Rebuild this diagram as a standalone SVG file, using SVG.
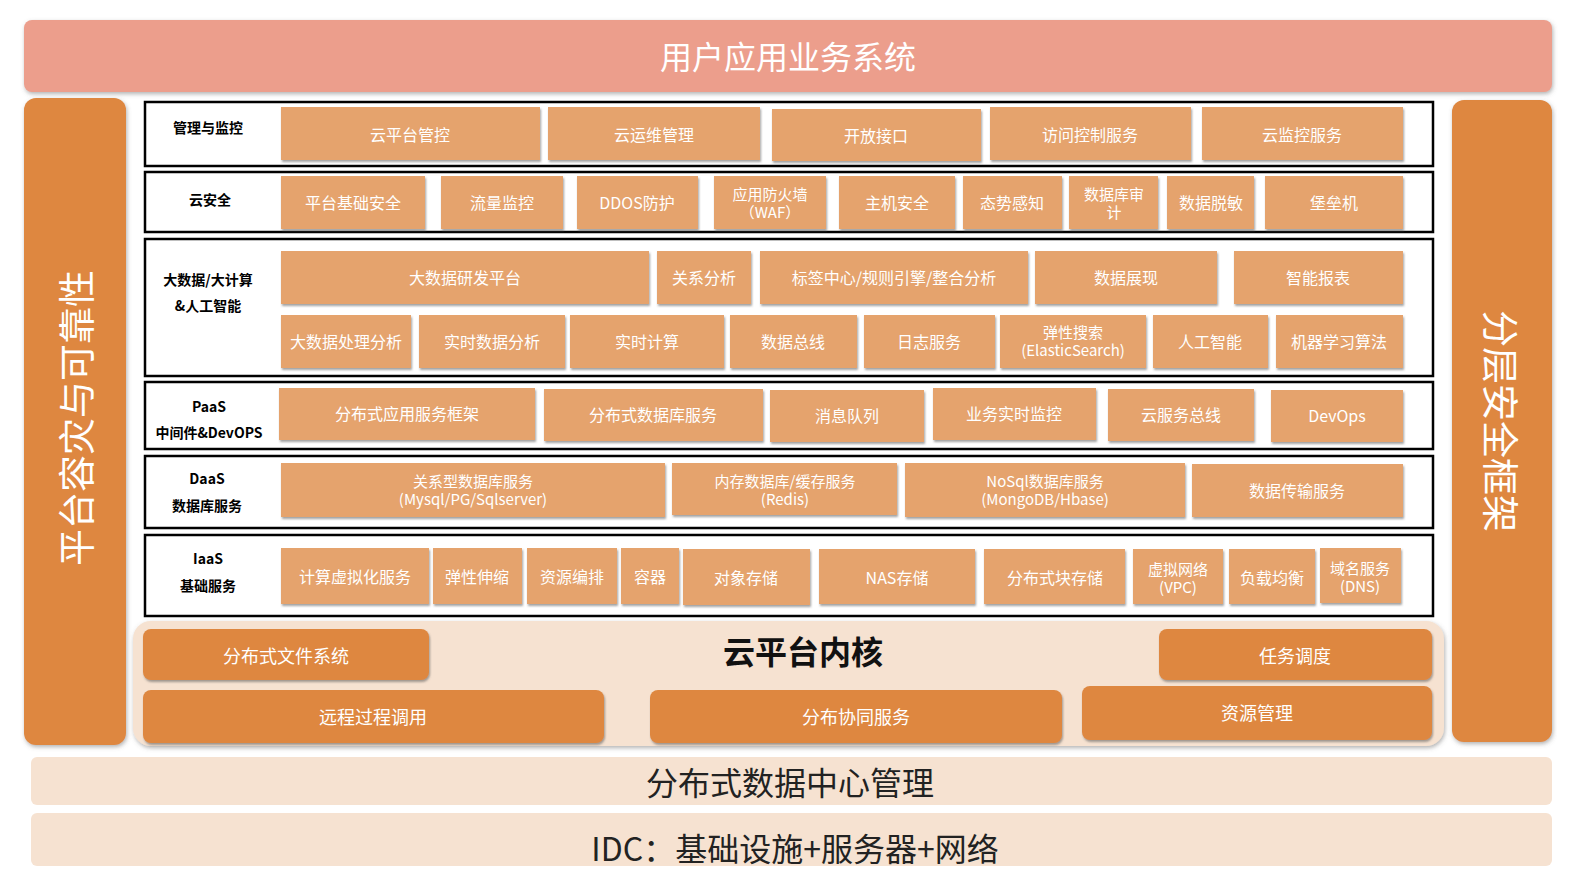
<svg xmlns="http://www.w3.org/2000/svg" width="1583" height="891" viewBox="0 0 1583 891">
<defs>
<filter id="sh" x="-10%" y="-20%" width="120%" height="150%">
<feDropShadow dx="1" dy="2" stdDeviation="1.2" flood-color="#555" flood-opacity="0.55"/>
</filter>
<filter id="sh2" x="-5%" y="-10%" width="110%" height="130%">
<feDropShadow dx="1" dy="2" stdDeviation="2" flood-color="#666" flood-opacity="0.5"/>
</filter>
</defs>
<style>
text{font-family:"Noto Sans CJK SC","Microsoft YaHei","Noto Sans",sans-serif;text-anchor:middle;dominant-baseline:central}
.it{fill:#E5A36D;filter:url(#sh)}
.t{fill:#fff;font-size:16px}
.t2{fill:#fff;font-size:15px}
.row{fill:#fff;stroke:#000;stroke-width:2.5}
.lb{fill:#000;font-size:14px;font-weight:bold}
.kn{fill:#DE873F;filter:url(#sh)}
.kt{fill:#fff;font-size:18px}
.bar{fill:#DE873F;filter:url(#sh2)}
.base{fill:#F6E2D1}
.big{fill:#222;font-size:32px}
</style>
<rect width="1583" height="891" fill="#fff"/>

<g id="top">
<rect x="24" y="20" width="1528" height="72" rx="8" fill="#EC9E8C" filter="url(#sh2)"/>
<text x="788" y="55" fill="#fff" style="font-size:32px">用户应用业务系统</text>
</g>

<g id="left-bar">
<rect class="bar" x="24" y="98" width="102" height="647" rx="12"/>
<text x="75" y="418" transform="rotate(-90 75 418)" fill="#fff" style="font-size:37px">平台容灾与可靠性</text>
</g>
<g id="right-bar">
<rect class="bar" x="1452" y="100" width="100" height="642" rx="12"/>
<text x="1502" y="421" transform="rotate(90 1502 421)" fill="#fff" style="font-size:37px">分层安全框架</text>
</g>

<g id="row-mgmt">
<rect class="row" x="145" y="102" width="1288" height="64"/>
<text class="lb" x="208" y="127">管理与监控</text>
<rect class="it" x="281" y="107" width="259" height="53"/><text class="t" x="410" y="134">云平台管控</text>
<rect class="it" x="548" y="107" width="212" height="53"/><text class="t" x="654" y="134">云运维管理</text>
<rect class="it" x="772" y="109" width="209" height="52"/><text class="t" x="876" y="135">开放接口</text>
<rect class="it" x="990" y="107" width="201" height="53"/><text class="t" x="1090" y="134">访问控制服务</text>
<rect class="it" x="1202" y="107" width="201" height="53"/><text class="t" x="1302" y="134">云监控服务</text>
</g>

<g id="row-sec">
<rect class="row" x="145" y="172" width="1288" height="60"/>
<text class="lb" x="210" y="199">云安全</text>
<rect class="it" x="281" y="176" width="144" height="53"/><text class="t" x="353" y="202">平台基础安全</text>
<rect class="it" x="441" y="176" width="122" height="53"/><text class="t" x="502" y="202">流量监控</text>
<rect class="it" x="577" y="176" width="121" height="53"/><text class="t" x="637" y="202">DDOS防护</text>
<rect class="it" x="714" y="176" width="112" height="53"/><text class="t2" x="770" y="193">应用防火墙</text><text class="t2" x="770" y="211">（WAF）</text>
<rect class="it" x="839" y="176" width="116" height="53"/><text class="t" x="897" y="202">主机安全</text>
<rect class="it" x="963" y="176" width="99" height="53"/><text class="t" x="1012" y="202">态势感知</text>
<rect class="it" x="1069" y="176" width="89" height="53"/><text class="t2" x="1114" y="193">数据库审</text><text class="t2" x="1114" y="211">计</text>
<rect class="it" x="1167" y="176" width="87" height="53"/><text class="t" x="1211" y="202">数据脱敏</text>
<rect class="it" x="1265" y="176" width="138" height="53"/><text class="t" x="1334" y="202">堡垒机</text>
</g>

<g id="row-bigdata">
<rect class="row" x="145" y="239" width="1288" height="137"/>
<text class="lb" x="208" y="279">大数据/大计算</text>
<text class="lb" x="208" y="305">&amp;人工智能</text>
<rect class="it" x="281" y="251" width="368" height="53"/><text class="t" x="465" y="277">大数据研发平台</text>
<rect class="it" x="657" y="251" width="94" height="53"/><text class="t" x="704" y="277">关系分析</text>
<rect class="it" x="760" y="251" width="268" height="53"/><text class="t" x="894" y="277">标签中心/规则引擎/整合分析</text>
<rect class="it" x="1035" y="251" width="182" height="53"/><text class="t" x="1126" y="277">数据展现</text>
<rect class="it" x="1234" y="251" width="169" height="53"/><text class="t" x="1318" y="277">智能报表</text>
<rect class="it" x="281" y="315" width="130" height="53"/><text class="t" x="346" y="341">大数据处理分析</text>
<rect class="it" x="419" y="315" width="146" height="53"/><text class="t" x="492" y="341">实时数据分析</text>
<rect class="it" x="570" y="315" width="154" height="53"/><text class="t" x="647" y="341">实时计算</text>
<rect class="it" x="730" y="315" width="127" height="53"/><text class="t" x="793" y="341">数据总线</text>
<rect class="it" x="864" y="315" width="131" height="53"/><text class="t" x="929" y="341">日志服务</text>
<rect class="it" x="1000" y="315" width="146" height="53"/><text class="t2" x="1073" y="331">弹性搜索</text><text class="t2" x="1073" y="349">(ElasticSearch)</text>
<rect class="it" x="1153" y="315" width="115" height="53"/><text class="t" x="1210" y="341">人工智能</text>
<rect class="it" x="1276" y="315" width="127" height="53"/><text class="t" x="1339" y="341">机器学习算法</text>
</g>

<g id="row-paas">
<rect class="row" x="145" y="382" width="1288" height="67"/>
<text class="lb" x="209" y="406">PaaS</text>
<text class="lb" x="209" y="432">中间件&amp;DevOPS</text>
<rect class="it" x="279" y="388" width="256" height="52"/><text class="t" x="407" y="413">分布式应用服务框架</text>
<rect class="it" x="544" y="389" width="219" height="52"/><text class="t" x="653" y="414">分布式数据库服务</text>
<rect class="it" x="770" y="390" width="154" height="52"/><text class="t" x="847" y="415">消息队列</text>
<rect class="it" x="933" y="388" width="163" height="52"/><text class="t" x="1014" y="413">业务实时监控</text>
<rect class="it" x="1108" y="389" width="146" height="52"/><text class="t" x="1181" y="414">云服务总线</text>
<rect class="it" x="1271" y="390" width="132" height="52"/><text class="t" x="1337" y="415">DevOps</text>
</g>

<g id="row-daas">
<rect class="row" x="145" y="456" width="1288" height="72"/>
<text class="lb" x="207" y="478">DaaS</text>
<text class="lb" x="207" y="505">数据库服务</text>
<rect class="it" x="281" y="463" width="384" height="54"/><text class="t2" x="473" y="480">关系型数据库服务</text><text class="t2" x="473" y="498">(Mysql/PG/Sqlserver)</text>
<rect class="it" x="672" y="463" width="225" height="52"/><text class="t2" x="785" y="480">内存数据库/缓存服务</text><text class="t2" x="785" y="498">(Redis)</text>
<rect class="it" x="905" y="463" width="280" height="54"/><text class="t2" x="1045" y="480">NoSql数据库服务</text><text class="t2" x="1045" y="498">(MongoDB/Hbase)</text>
<rect class="it" x="1192" y="464" width="211" height="53"/><text class="t" x="1297" y="490">数据传输服务</text>
</g>

<g id="row-iaas">
<rect class="row" x="145" y="535" width="1288" height="81"/>
<text class="lb" x="208" y="558">IaaS</text>
<text class="lb" x="208" y="585">基础服务</text>
<rect class="it" x="281" y="548" width="148" height="56"/><text class="t" x="355" y="576">计算虚拟化服务</text>
<rect class="it" x="433" y="548" width="89" height="56"/><text class="t" x="477" y="576">弹性伸缩</text>
<rect class="it" x="527" y="548" width="90" height="56"/><text class="t" x="572" y="576">资源编排</text>
<rect class="it" x="621" y="548" width="58" height="56"/><text class="t" x="650" y="576">容器</text>
<rect class="it" x="683" y="549" width="127" height="56"/><text class="t" x="746" y="577">对象存储</text>
<rect class="it" x="819" y="549" width="156" height="55"/><text class="t" x="897" y="577">NAS存储</text>
<rect class="it" x="984" y="549" width="141" height="55"/><text class="t" x="1055" y="577">分布式块存储</text>
<rect class="it" x="1133" y="549" width="90" height="55"/><text class="t2" x="1178" y="568">虚拟网络</text><text class="t2" x="1178" y="586">(VPC)</text>
<rect class="it" x="1229" y="549" width="86" height="55"/><text class="t" x="1272" y="577">负载均衡</text>
<rect class="it" x="1320" y="548" width="81" height="55"/><text class="t2" x="1360" y="567">域名服务</text><text class="t2" x="1360" y="585">(DNS)</text>
</g>

<g id="kernel">
<rect x="133" y="621" width="1311" height="125" rx="18" fill="#F6E2D1" filter="url(#sh2)"/>
<text x="803" y="650" fill="#111" style="font-size:32px;font-weight:bold">云平台内核</text>
<rect class="kn" x="143" y="629" width="286" height="51" rx="8"/><text class="kt" x="286" y="655">分布式文件系统</text>
<rect class="kn" x="1159" y="629" width="273" height="51" rx="8"/><text class="kt" x="1295" y="655">任务调度</text>
<rect class="kn" x="143" y="690" width="461" height="53" rx="8"/><text class="kt" x="373" y="716">远程过程调用</text>
<rect class="kn" x="650" y="690" width="412" height="53" rx="8"/><text class="kt" x="856" y="716">分布协同服务</text>
<rect class="kn" x="1082" y="686" width="350" height="54" rx="8"/><text class="kt" x="1257" y="712">资源管理</text>
</g>

<g id="dc">
<rect class="base" x="31" y="757" width="1521" height="48" rx="6"/>
<text class="big" x="790" y="781">分布式数据中心管理</text>
</g>
<g id="idc">
<rect class="base" x="31" y="813" width="1521" height="53" rx="6"/>
<text class="big" x="795" y="847">IDC：基础设施+服务器+网络</text>
</g>
<g id="connectors"></g>
</svg>
